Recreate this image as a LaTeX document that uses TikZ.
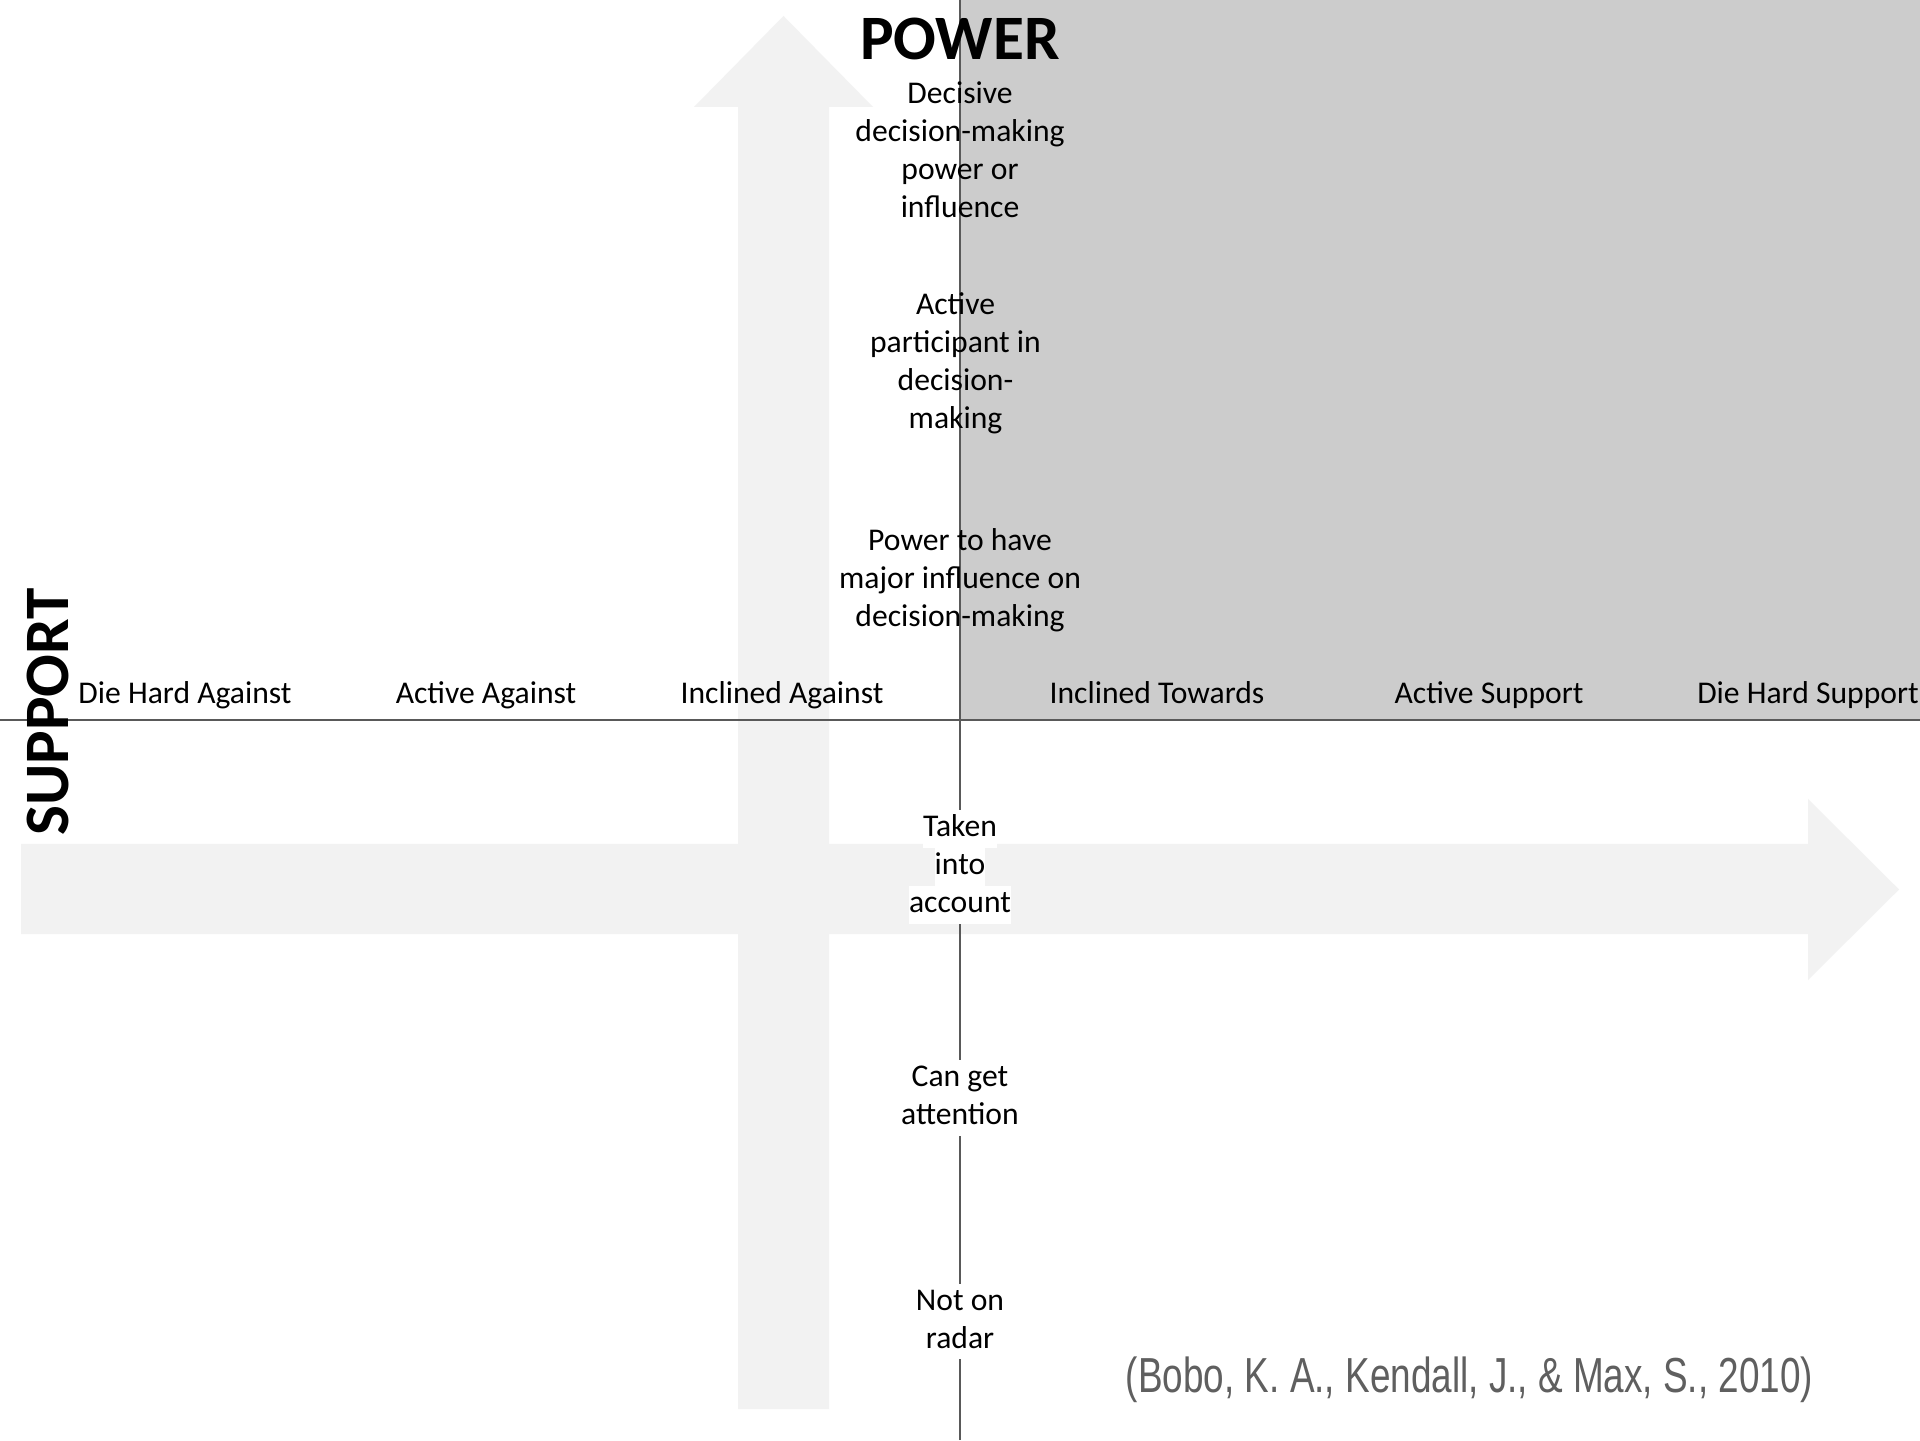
\documentclass[tikz,border=0pt]{standalone}
\usepackage{fontspec}
\setmainfont{Carlito}
\newfontfamily\citefont{Liberation Sans}
\usetikzlibrary{positioning}

\definecolor{quadgray}{HTML}{CCCCCC}
\definecolor{arrowgray}{HTML}{F2F2F2}
\definecolor{axisgray}{HTML}{595959}
\definecolor{citegray}{HTML}{5F5F5F}
% white band behind each line of a label
\newcommand{\hilite}[1]{{\setlength{\fboxsep}{0pt}\colorbox{white}{\strut #1}}}

\begin{document}
\begin{tikzpicture}[
  lbl/.style={font=\fontsize{9}{10.8}\selectfont, align=center, inner sep=0pt},
  axistitle/.style={font=\fontsize{18}{21.6}\selectfont\bfseries, inner sep=0pt, anchor=base},
  axisline/.style={draw=axisgray, line width=0.8pt},
  bigarrow/.style={fill=arrowgray}]
  \useasboundingbox (0,0) rectangle (19.2,14.4);
  \fill[white] (0,0) rectangle (19.2,14.4);

  % Shaded quadrant
  \fill[quadgray] (9.6,7.2) rectangle (19.2,14.4);

  % Big arrows
  \fill[bigarrow] (7.38,0.31) -- (7.38,13.33) -- (6.94,13.33) -- (7.835,14.24)
    -- (8.73,13.33) -- (8.29,13.33) -- (8.29,0.31) -- cycle;
  \fill[bigarrow] (0.21,5.06) -- (18.08,5.06) -- (18.08,4.60) -- (18.99,5.505)
    -- (18.08,6.41) -- (18.08,5.96) -- (0.21,5.96) -- cycle;

  % Axes
  \coordinate (xleft) at (0,7.2);
  \coordinate (xright) at (19.2,7.2);
  \coordinate (ybottom) at (9.6,0);
  \coordinate (ytop) at (9.6,14.4);
  \draw[axisline] (xleft) -- (xright);
  \draw[axisline] (ybottom) -- (ytop);

  % Axis titles
  \node[axistitle] (power) at (9.6,13.8) {POWER};
  \node[axistitle, rotate=90] (support) at (0.68,7.28) {SUPPORT};

  % Power levels
  \node[lbl] (decisive) at (9.6,12.90) {Decisive\\decision-making\\power or\\influence};
  \node[lbl] (participant) at (9.555,10.765) {Active\\participant in\\decision-\\making};
  \node[lbl] (major) at (9.6,8.595) {Power to have\\major influence on\\decision-making};
  \node[lbl] (taken) at (9.6,5.73) {\hilite{Taken}\\\hilite{into}\\\hilite{account}};
  \node[lbl] (attention) at (9.6,3.42) {\hilite{Can get}\\\hilite{attention}};
  \node[lbl] (radar) at (9.6,1.185) {\hilite{Not on}\\\hilite{radar}};

  % Support levels
  \node[lbl, anchor=base] (dhagainst) at (1.85,7.36) {Die Hard Against};
  \node[lbl, anchor=base] (actagainst) at (4.86,7.36) {Active Against};
  \node[lbl, anchor=base] (incagainst) at (7.82,7.36) {Inclined Against};
  \node[lbl, anchor=base] (inctowards) at (11.57,7.36) {Inclined Towards};
  \node[lbl, anchor=base] (actsupport) at (14.89,7.36) {Active Support};
  \node[lbl, anchor=base] (dhsupport) at (18.08,7.36) {Die Hard Support};

  % Source
  \node[anchor=base, inner sep=0pt, text=citegray] (source) at (14.695,0.48)
    {\scalebox{0.75}[1]{\fontsize{14}{16}\citefont (Bobo, K. A., Kendall, J., \& Max, S., 2010)}};
\end{tikzpicture}
\end{document}
